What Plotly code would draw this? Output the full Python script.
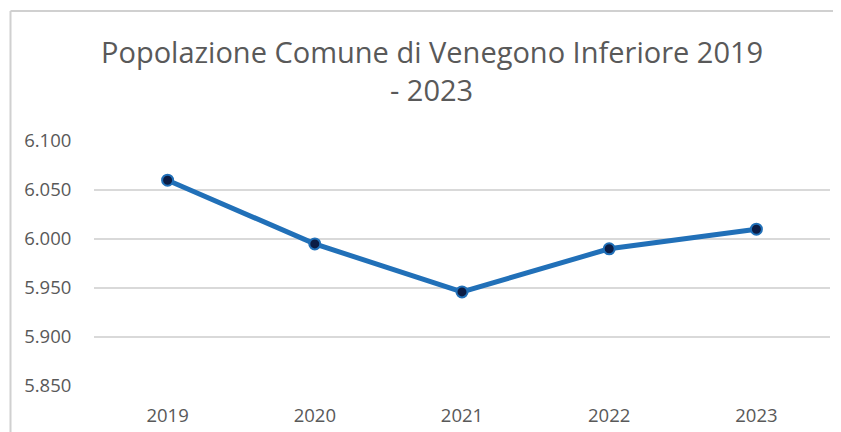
import plotly.graph_objects as go

years = ["2019", "2020", "2021", "2022", "2023"]
population = [6060, 5995, 5946, 5990, 6010]
y_ticks = [5850, 5900, 5950, 6000, 6050, 6100]
title_line1 = "Popolazione Comune di Venegono Inferiore 2019"
title_line2 = "- 2023"

# page body has an 8px margin: shift everything up/left by 8px
OFF = 8
W, H = 841 - OFF, 432 - OFF
L, R, T, B = 94 - OFF, 11, 141 - OFF, 46
PW, PH = W - L - R, H - T - B
FONT = "Open Sans"
GREY = "#595959"


def px(x):
    return (x - OFF - L) / PW


def py(y):
    return 1 - (y - OFF - T) / PH


fig = go.Figure()
fig.add_trace(go.Scatter(
    x=years, y=population, mode="lines+markers",
    line=dict(color="#2170b8", width=5),
    marker=dict(size=11, color="#0c1d45", line=dict(color="#2170b8", width=2)),
    showlegend=False,
))

fig.update_layout(
    width=W, height=H,
    margin=dict(l=L, r=R, t=T, b=B, pad=0, autoexpand=False),
    paper_bgcolor="white", plot_bgcolor="white",
    separators=",.",
    font=dict(family=FONT, color=GREY, size=18),
    xaxis=dict(
        type="category", range=[-0.5, 4.5], showgrid=False, zeroline=False, showline=False,
        automargin=False,
        ticks="outside", ticklen=13, tickcolor="rgba(0,0,0,0)",
        tickfont=dict(family=FONT, size=18.5, color=GREY),
    ),
    yaxis=dict(
        range=[5850, 6100], tickvals=y_ticks, tickformat=",d",
        showgrid=True, gridcolor="#d9d9d9", gridwidth=1.5,
        zeroline=False, showline=False, automargin=False,
        ticks="outside", ticklen=18, tickcolor="rgba(0,0,0,0)",
        tickfont=dict(family=FONT, size=18.5, color=GREY),
    ),
    annotations=[
        dict(text=title_line1, xref="paper", yref="paper", x=px(431.5), y=py(51),
             xanchor="center", yanchor="middle",
             showarrow=False, font=dict(family=FONT, size=29, color=GREY)),
        dict(text=title_line2, xref="paper", yref="paper", x=px(431.5), y=py(90),
             xanchor="center", yanchor="middle",
             showarrow=False, font=dict(family=FONT, size=29, color=GREY)),
    ],
    shapes=[
        dict(type="line", xref="paper", yref="paper",
             x0=px(10.5), x1=px(850), y0=py(11), y1=py(11),
             line=dict(color="#d0d0d0", width=2)),
        dict(type="line", xref="paper", yref="paper",
             x0=px(10.5), x1=px(10.5), y0=py(11), y1=py(440),
             line=dict(color="#d0d0d0", width=2)),
    ],
)

fig.write_html("out.html")
